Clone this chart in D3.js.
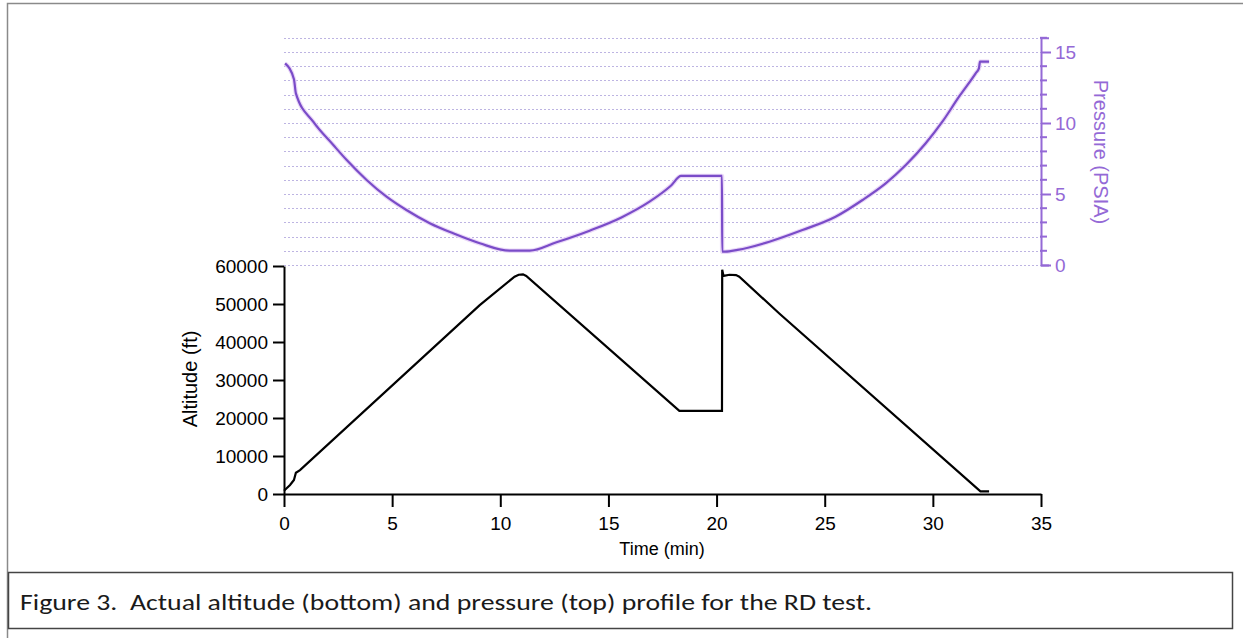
<!DOCTYPE html>
<html>
<head>
<meta charset="utf-8">
<script src="https://cdn.jsdelivr.net/npm/d3@7"></script>
<style>
  body { margin: 0; background: #fff; }
  svg { display: block; }
</style>
</head>
<body>
<div id="chart"></div>
<script>
(function () {
'use strict';
// Altitude (bottom) and pressure (top) profile, RD test

// altitude trace, time in min / altitude in ft
const altTime = [0, 0.28, 0.46, 0.55, 0.74, 9.05, 10.66, 10.85, 11.05, 11.2, 18.28, 20.25, 20.26, 20.32, 20.6, 20.9, 21.05, 22.9, 32.2, 32.6];
const altFeet = [870, 2370, 3680, 5600, 6300, 49700, 57200, 57700, 57800, 57400, 21900, 21900, 59000, 57400, 57700, 57600, 57200, 47500, 700, 700];

// pressure trace, time in min / PSIA
const psiTime = [0.05, 0.46, 0.55, 1.35, 2.28, 2.9, 3.82, 4.74, 5.66, 6.74, 7.82, 9.05, 10.43, 11.36, 12.6, 14.1, 15.6, 16.9, 17.9, 18.36, 20.25, 20.26, 20.4, 20.97, 22.44, 23.97, 25.5, 26.75, 27.82, 28.75, 29.67, 30.44, 31.21, 31.98, 32.13, 32.18, 32.6];
const psiVal  = [14.2, 13.08, 12.09, 10.09, 8.45, 7.39, 5.99, 4.81, 3.87, 2.94, 2.23, 1.53, 1.01, 1.01, 1.6, 2.4, 3.35, 4.46, 5.6, 6.27, 6.27, 0.94, 0.94, 1.06, 1.64, 2.46, 3.40, 4.58, 5.75, 7.04, 8.57, 10.09, 11.85, 13.5, 13.85, 14.32, 14.32];

const timeTicks = [0, 5, 10, 15, 20, 25, 30, 35];
const altTicks = [0, 10000, 20000, 30000, 40000, 50000, 60000];
const psiTicks = [0, 5, 10, 15];
const psiMinor = d3.range(0, 17);

const captionText = "Figure 3.  Actual altitude (bottom) and pressure (top) profile for the RD test.";

const W = 1243, H = 638;
const PURPLE = "#9469d6";
const PURPLE_LINE = "#7a4cc8";
const GRID = "#bdb4e2";
const FONT = "Arial, 'Liberation Sans', sans-serif";

const svg = d3.select("#chart").append("svg")
  .attr("width", W).attr("height", H)
  .attr("viewBox", `0 0 ${W} ${H}`);

// outer frame (top + left edges visible)
svg.append("path")
  .attr("d", `M7.5,${H} V3.5 H${W}`)
  .attr("fill", "none").attr("stroke", "#8a8a8a").attr("stroke-width", 1.5);

// scales
const x = d3.scaleLinear().domain([0, 35]).range([284, 1041]);
const yAlt = d3.scaleLinear().domain([0, 60000]).range([494, 266]);
const yPsi = d3.scaleLinear().domain([0, 16]).range([265, 37.8]);

// pressure grid, dotted
svg.append("g").selectAll("line").data(psiMinor).join("line")
  .attr("x1", x(0)).attr("x2", x(35))
  .attr("y1", d => Math.round(yPsi(d)) + 0.5).attr("y2", d => Math.round(yPsi(d)) + 0.5)
  .attr("stroke", GRID).attr("stroke-width", 1).attr("stroke-dasharray", "2 2");

// --- bottom axes (black) ---
const xAxisG = svg.append("g").attr("transform", `translate(0,${yAlt(0)})`)
  .call(d3.axisBottom(x).tickValues(timeTicks).tickFormat(d3.format("d"))
    .tickSize(13).tickSizeOuter(0).tickPadding(10));
const yAxisG = svg.append("g").attr("transform", `translate(${x(0)},0)`)
  .call(d3.axisLeft(yAlt).tickValues(altTicks).tickFormat(d3.format("d"))
    .tickSize(11).tickSizeOuter(0).tickPadding(5));
[xAxisG, yAxisG].forEach(g => {
  g.selectAll("path,line").attr("stroke", "#000").attr("stroke-width", 2);
  g.selectAll("text").attr("fill", "#000").style("font-family", FONT).style("font-size", "19px");
});

// --- right pressure axis (purple) ---
const pAxisG = svg.append("g").attr("transform", `translate(${x(35)},0)`);
pAxisG.append("g").selectAll("line").data(psiMinor.filter(d => d % 5 !== 0)).join("line")
  .attr("x1", -1).attr("x2", 6)
  .attr("y1", d => yPsi(d)).attr("y2", d => yPsi(d))
  .attr("stroke", PURPLE).attr("stroke-width", 2);
const pAxis = pAxisG.append("g")
  .call(d3.axisRight(yPsi).tickValues(psiTicks).tickSize(10).tickSizeOuter(8).tickPadding(4));
pAxis.selectAll("path,line").attr("stroke", PURPLE).attr("stroke-width", 2);
pAxis.selectAll("text").attr("fill", PURPLE).style("font-family", FONT).style("font-size", "19px");

// axis titles
svg.append("text")
  .attr("x", 662).attr("y", 555).attr("text-anchor", "middle")
  .style("font-family", FONT).style("font-size", "18px").attr("fill", "#000")
  .text("Time (min)");
svg.append("text")
  .attr("transform", "translate(197,379) rotate(-90)").attr("text-anchor", "middle")
  .style("font-family", FONT).style("font-size", "20px").attr("fill", "#000")
  .text("Altitude (ft)");
svg.append("text")
  .attr("transform", "translate(1094,152) rotate(90)").attr("text-anchor", "middle")
  .style("font-family", FONT).style("font-size", "20px").attr("fill", PURPLE)
  .text("Pressure (PSIA)");

// data lines
const altLine = d3.line().x(d => x(d[0])).y(d => yAlt(d[1]));
svg.append("path")
  .datum(d3.zip(altTime, altFeet))
  .attr("d", altLine)
  .attr("fill", "none").attr("stroke", "#000").attr("stroke-width", 2.2)
  .attr("stroke-linejoin", "miter");

const psiLine = d3.line().x(d => x(d[0])).y(d => yPsi(d[1])).curve(d3.curveMonotoneX);
const psiPts = d3.zip(psiTime, psiVal);
svg.append("path")
  .datum(psiPts)
  .attr("d", psiLine)
  .attr("fill", "none").attr("stroke", "#ead8f8").attr("stroke-width", 4.5)
  .attr("stroke-linejoin", "round");
svg.append("path")
  .datum(psiPts)
  .attr("d", psiLine)
  .attr("fill", "none").attr("stroke", PURPLE_LINE).attr("stroke-width", 2.2)
  .attr("stroke-linejoin", "round");

// caption box
svg.append("rect")
  .attr("x", 8.5).attr("y", 572.5).attr("width", 1224).attr("height", 56)
  .attr("fill", "#fff").attr("stroke", "#444").attr("stroke-width", 1.5);
svg.append("text")
  .attr("x", 20).attr("y", 610)
  .attr("textLength", 852).attr("lengthAdjust", "spacingAndGlyphs")
  .style("white-space", "pre")
  .style("font-family", "Carlito, Calibri, Lato, 'Open Sans', sans-serif").style("font-size", "23px")
  .attr("fill", "#1a1a1a")
  .text(captionText);
})();
</script>
</body>
</html>
